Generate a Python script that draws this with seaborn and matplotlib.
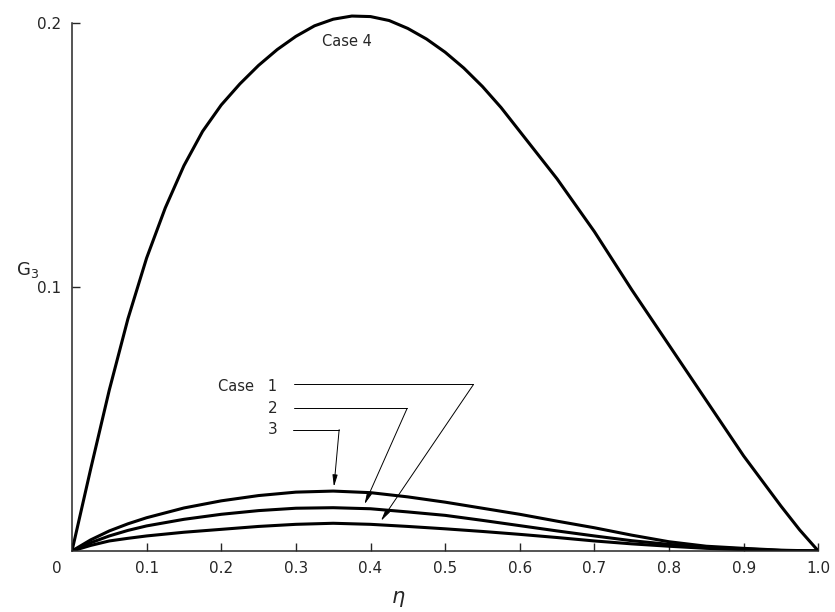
import numpy as np
import pandas as pd
import matplotlib
matplotlib.use("Agg")
import matplotlib.pyplot as plt
import matplotlib.transforms as mtransforms
import seaborn as sns

# Case 4 curve
eta4 = [0.0, 0.025, 0.05, 0.075, 0.1, 0.125, 0.15, 0.175, 0.2, 0.225, 0.25, 0.275, 0.3,
        0.325, 0.35, 0.375, 0.4, 0.425, 0.45, 0.475, 0.5, 0.525, 0.55, 0.575, 0.6, 0.625,
        0.65, 0.675, 0.7, 0.725, 0.75, 0.775, 0.8, 0.825, 0.85, 0.875, 0.9, 0.925, 0.95,
        0.975, 1.0]
g_case4 = [0.0, 0.031, 0.061, 0.088, 0.111, 0.130, 0.146, 0.159, 0.169, 0.177, 0.184, 0.190, 0.195,
           0.199, 0.2015, 0.2027, 0.2025, 0.2010, 0.198, 0.194, 0.189, 0.183, 0.176, 0.168, 0.159, 0.150,
           0.141, 0.131, 0.121, 0.110, 0.099, 0.0885, 0.078, 0.0675, 0.057, 0.0465, 0.036, 0.0265, 0.017,
           0.008, 0.0]

# Cases 1-3
eta_small = [0.0, 0.025, 0.05, 0.075, 0.1, 0.15, 0.2, 0.25, 0.3, 0.35, 0.4, 0.45, 0.5, 0.55,
             0.6, 0.65, 0.7, 0.75, 0.8, 0.85, 0.9, 0.95, 1.0]
g_case3 = [0.0, 0.0042, 0.0076, 0.0103, 0.0126, 0.0163, 0.0190, 0.0210, 0.0223, 0.0227, 0.0221,
           0.0205, 0.0185, 0.0162, 0.0139, 0.0113, 0.0088, 0.0060, 0.0035, 0.0018, 0.0010, 0.0003, 0.0]
g_case2 = [0.0, 0.0031, 0.0057, 0.0078, 0.0095, 0.0120, 0.0139, 0.0153, 0.0162, 0.0164, 0.0160,
           0.0148, 0.0135, 0.0116, 0.0096, 0.0076, 0.0057, 0.0039, 0.0025, 0.0014, 0.0008, 0.0002, 0.0]
g_case1 = [0.0, 0.0021, 0.0038, 0.0048, 0.0057, 0.0071, 0.0082, 0.0093, 0.0101, 0.0105, 0.0101,
           0.0093, 0.0084, 0.0074, 0.0063, 0.0051, 0.0038, 0.0027, 0.0018, 0.0010, 0.0005, 0.0001, 0.0]

x_ticks = [0.0, 0.1, 0.2, 0.3, 0.4, 0.5, 0.6, 0.7, 0.8, 0.9, 1.0]
x_labels = ["0", "0.1", "0.2", "0.3", "0.4", "0.5", "0.6", "0.7", "0.8", "0.9", "1.0"]
y_ticks = [0.1, 0.2]
y_labels = ["0.1", "0.2"]

sns.set_style("ticks")
plt.rcParams['font.family'] = ['DejaVu Sans']

fig = plt.figure(figsize=(8.35, 6.12), dpi=100)
ax = fig.add_axes([0.0862, 0.0997, 0.8938, 0.8840])

lw = 2.2
sns.lineplot(x=eta4, y=g_case4, color="black", linewidth=lw, ax=ax)
for g in (g_case1, g_case2, g_case3):
    sns.lineplot(x=eta_small, y=g, color="black", linewidth=lw, ax=ax)

ax.set_xlim(0, 1.0)
ax.set_ylim(0, 0.205)
ax.spines['left'].set_bounds(0, 0.2)
for s in ('top', 'right'):
    ax.spines[s].set_visible(False)
for s in ('left', 'bottom'):
    ax.spines[s].set_linewidth(1.1)

ax.set_xticks(x_ticks)
ax.set_xticklabels(x_labels, fontsize=11)
ax.set_yticks(y_ticks)
ax.set_yticklabels(y_labels, fontsize=11)
ax.tick_params(direction="in", length=6, width=1.0, pad=7)
ax.tick_params(axis="y", pad=8)
# shift the "0" label to the left of the origin
lab0 = ax.get_xticklabels()[0]
lab0.set_transform(lab0.get_transform() + mtransforms.ScaledTranslation(-0.15, 0, fig.dpi_scale_trans))

ax.set_xlabel(r"$\eta$", fontsize=15)
ax.xaxis.set_label_coords(0.437, -0.07)
ax.set_ylabel("")
ax.text(-0.059, 0.1065, r"$\mathregular{G_3}$", fontsize=13, ha="center", va="center")

ax.text(0.369, 0.193, "Case 4", fontsize=10.5, ha="center", va="center")

# leader lines for cases 1-3
ax.text(0.275, 0.0625, "Case   1", fontsize=10.5, ha="right", va="center")
ax.text(0.275, 0.054, "2", fontsize=11, ha="right", va="center")
ax.text(0.275, 0.046, "3", fontsize=11, ha="right", va="center")

arrow = dict(arrowstyle="-|>,head_length=0.7,head_width=0.15", color="black", lw=0.7, shrinkA=0, shrinkB=0)
ax.plot([0.298, 0.538], [0.0631, 0.0631], color="black", lw=0.7)
ax.annotate("", xy=(0.414, 0.0114), xytext=(0.538, 0.0631), arrowprops=arrow)
ax.plot([0.298, 0.449], [0.054, 0.054], color="black", lw=0.7)
ax.annotate("", xy=(0.392, 0.0177), xytext=(0.449, 0.054), arrowprops=arrow)
ax.plot([0.2955, 0.358], [0.046, 0.046], color="black", lw=0.7)
ax.annotate("", xy=(0.351, 0.0243), xytext=(0.358, 0.046), arrowprops=arrow)

fig.savefig("out.png", dpi=100)
